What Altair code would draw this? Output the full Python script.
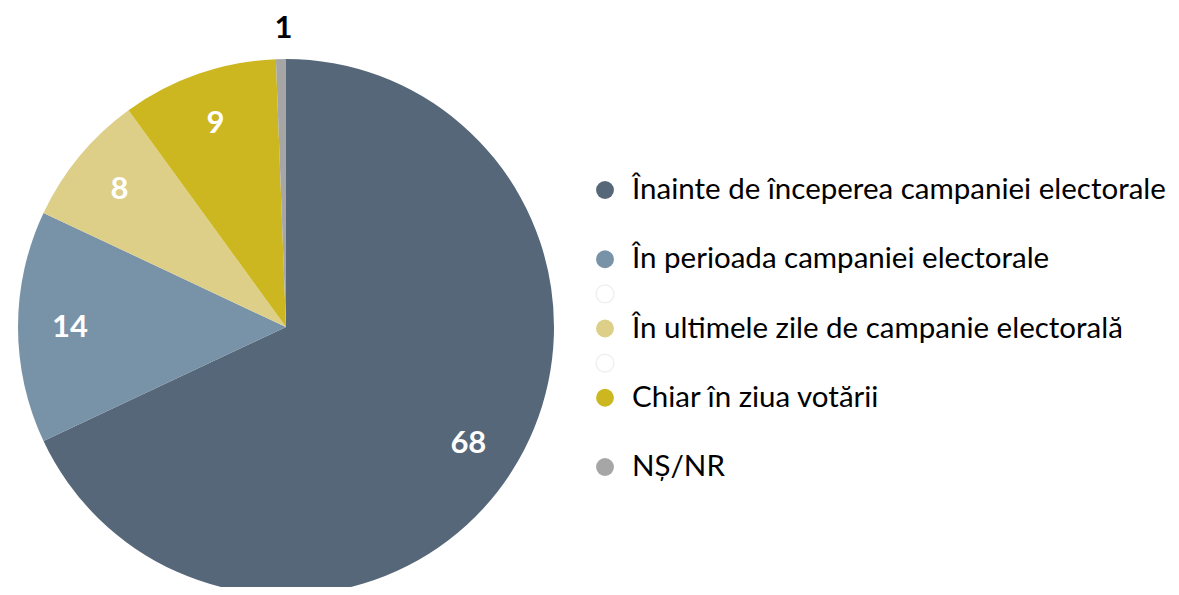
import altair as alt
import pandas as pd

categories = [
    "Înainte de începerea campaniei electorale",
    "În perioada campaniei electorale",
    "În ultimele zile de campanie electorală",
    "Chiar în ziua votării",
    "NȘ/NR",
]
values = [68, 14, 8, 9.4, 0.6]
labels_txt = ["68", "14", "8", "9", "1"]
colors = ["#556779", "#7892A8", "#DDCF88", "#CDB720", "#A6A6A6"]

# legend slots (visible entries and the faint empty markers)
legend_slots = [0, 2, 4, 6, 8]
blank_slots = [3, 5]

FONT = "Lato"
CX, CY, R = 278, 319, 268

df = pd.DataFrame({"cat": categories, "value": values, "label": labels_txt,
                   "idx": list(range(len(values)))})
leg = pd.DataFrame({"cat": categories, "slot": legend_slots})
blank = pd.DataFrame({"slot": blank_slots})

color_scale = alt.Scale(domain=categories, range=colors)

base = alt.Chart(df).transform_calculate(
    lab_in="datum.value < 3 ? '' : datum.label",
    lab_out="datum.value < 3 ? datum.label : ''",
).encode(
    theta=alt.Theta("value:Q", stack=True),
    order=alt.Order("idx:Q"),
    x=alt.value(CX),
    y=alt.value(CY),
)

arcs = base.mark_arc(outerRadius=R).encode(
    color=alt.Color("cat:N", scale=color_scale, legend=None)
)

inner_labels = base.mark_text(
    font=FONT, fontSize=31, fontWeight="bold", align="center", baseline="middle", dy=1,
    radius=216, color="#FFFFFF"
).encode(text=alt.Text("lab_in:N"))

outer_labels = base.mark_text(
    font=FONT, fontSize=31, fontWeight="bold", align="center", baseline="middle", dy=1, dx=3,
    radius=299, color="#000000"
).encode(text=alt.Text("lab_out:N"))

yscale = alt.Scale(domain=[0, 8], range=[182, 459])

leg_pts = alt.Chart(leg).mark_point(filled=True, shape="circle", size=320, opacity=1).encode(
    x=alt.value(597),
    y=alt.Y("slot:Q", scale=yscale, axis=None),
    color=alt.Color("cat:N", scale=color_scale, legend=None),
)

leg_txt = alt.Chart(leg).mark_text(font=FONT, fontSize=29.5, align="left", baseline="middle", color="#000000").encode(
    x=alt.value(624),
    y=alt.Y("slot:Q", scale=yscale, axis=None),
    text="cat:N",
)

blank_pts = alt.Chart(blank).mark_point(shape="circle", size=320, fill="#FFFFFF", stroke="#F0F0F0", strokeWidth=1.5, opacity=1).encode(
    x=alt.value(597),
    y=alt.Y("slot:Q", scale=yscale, axis=None),
)

chart = alt.layer(arcs, inner_labels, outer_labels, blank_pts, leg_pts, leg_txt).properties(
    width=1163, height=579, autosize=alt.AutoSizeParams(type="none"), padding=0
).configure_view(stroke=None).resolve_scale(y="shared")

chart.save("out.html", embed_options={"renderer": "svg", "actions": False})
